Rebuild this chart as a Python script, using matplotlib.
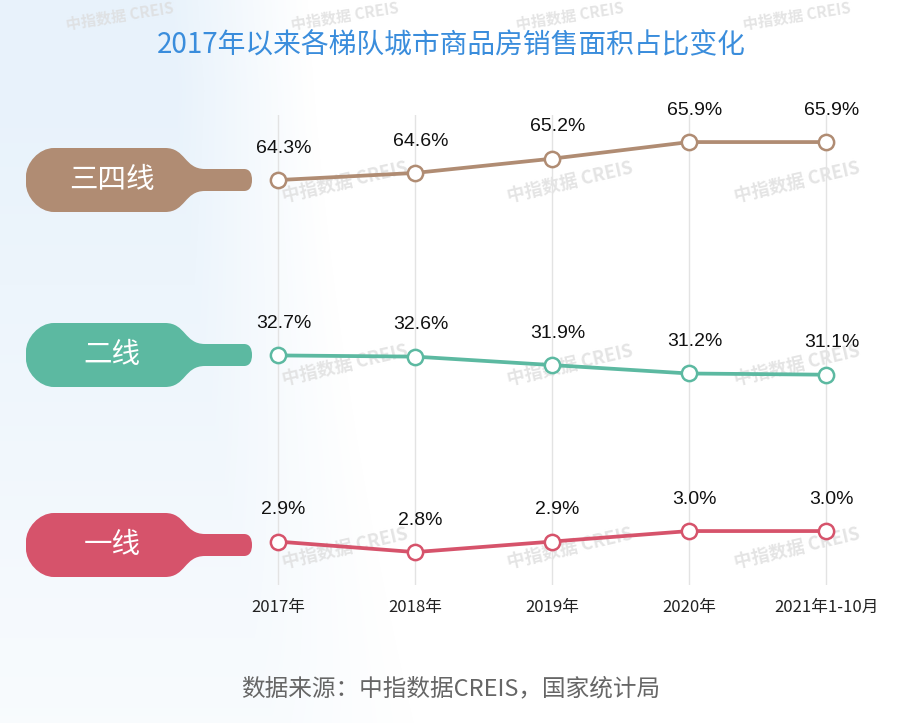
import matplotlib
matplotlib.use("Agg")
import matplotlib.pyplot as plt
import numpy as np
from matplotlib.path import Path
from matplotlib.patches import PathPatch

plt.rcParams['font.family'] = ['Noto Sans CJK SC', 'DejaVu Sans']
LATIN = ['Liberation Sans', 'Noto Sans CJK SC']

W, H = 902, 723

title = "2017年以来各梯队城市商品房销售面积占比变化"
source = "数据来源：中指数据CREIS，国家统计局"
periods = ["2017年", "2018年", "2019年", "2020年", "2021年1-10月"]
tiers = ["三四线", "二线", "一线"]
share_tier34 = [64.3, 64.6, 65.2, 65.9, 65.9]
share_tier2 = [32.7, 32.6, 31.9, 31.2, 31.1]
share_tier1 = [2.9, 2.8, 2.9, 3.0, 3.0]

colors = ["#b08c73", "#5cb9a1", "#d6536b"]
# per tier: band top/bottom in px and ylim
bands = [(110, 210), (300, 400), (490, 590)]
ylims = [(63.04, 67.25), (29.0, 37.3), (2.44, 3.39)]
bottle_y = [180, 355, 545]


def fig_rect(left, top, width, height):
    return [left / W, 1 - (top + height) / H, width / W, height / H]


fig = plt.figure(figsize=(W / 100, H / 100), dpi=100)

# background + decorations in pixel coordinates
bg = fig.add_axes([0, 0, 1, 1])
bg.set_xlim(0, W)
bg.set_ylim(H, 0)
bg.axis("off")

xx, yy = np.meshgrid(np.arange(W), np.arange(H))
edge = 300 + 0.12 * yy + 0.00012 * (yy - 250) ** 2
t = np.clip((edge - xx) / 140, 0, 1) * np.clip(1.1 - yy / 900, 0, 1)
t = np.clip(t, 0, 1)
img = np.ones((H, W, 3))
tint = np.array([0.91, 0.95, 0.985])
img = img * (1 - t[..., None]) + tint * t[..., None]
bg.imshow(img, extent=(0, W, H, 0), aspect="auto", zorder=0)

# watermarks
for wx in [120, 345, 570, 797]:
    bg.text(wx, 16, "中指数据 CREIS", fontsize=11, fontweight="bold",
            color="#dcdcdc", alpha=0.75, rotation=9,
            ha="center", va="center", zorder=1)
    for wy in [182, 365, 548]:
        bg.text(wx, wy, "中指数据 CREIS", fontsize=13, fontweight="bold",
                color="#dcdcdc", alpha=0.75, rotation=13,
                ha="center", va="center", zorder=1)


def bottle(cy, color):
    x0, r, hb, hn = 26, 28, 32, 11
    verts = [
        (x0 + r, cy - hb), (165, cy - hb),
        (186, cy - hb), (184, cy - hn), (205, cy - hn),
        (244, cy - hn),
        (250, cy - hn), (252, cy - 6), (252, cy),
        (252, cy + 6), (250, cy + hn), (244, cy + hn),
        (205, cy + hn),
        (184, cy + hn), (186, cy + hb), (165, cy + hb),
        (x0 + r, cy + hb),
        (x0 + r * 0.45, cy + hb), (x0, cy + hb - r * 0.55), (x0, cy + hb - r),
        (x0, cy - hb + r),
        (x0, cy - hb + r * 0.55), (x0 + r * 0.45, cy - hb), (x0 + r, cy - hb),
        (x0 + r, cy - hb),
    ]
    codes = [Path.MOVETO, Path.LINETO,
             Path.CURVE4, Path.CURVE4, Path.CURVE4,
             Path.LINETO,
             Path.CURVE4, Path.CURVE4, Path.CURVE4,
             Path.CURVE4, Path.CURVE4, Path.CURVE4,
             Path.LINETO,
             Path.CURVE4, Path.CURVE4, Path.CURVE4,
             Path.LINETO,
             Path.CURVE4, Path.CURVE4, Path.CURVE4,
             Path.LINETO,
             Path.CURVE4, Path.CURVE4, Path.CURVE4,
             Path.CLOSEPOLY]
    bg.add_patch(PathPatch(Path(verts, codes), facecolor=color,
                           edgecolor="none", zorder=2))


for name, cy, c in zip(tiers, bottle_y, colors):
    bottle(cy, c)
    bg.text(112, cy, name, fontsize=20.5, color="white",
            ha="center", va="center", zorder=3)

fig.text(0.5, 1 - 45 / H, title, fontsize=20, color="#3a8ddc",
         fontweight="medium", ha="center", va="center")
fig.text(0.5, 1 - 689 / H, source, fontsize=17, color="#666666",
         ha="center", va="center")

# grid axes with x labels
xlim = (-68 / 137, (880 - 278) / 137)
x = np.arange(len(periods))
grid = fig.add_axes(fig_rect(210, 115, 670, 470))
grid.set_xlim(*xlim)
grid.patch.set_alpha(0)
for s in grid.spines.values():
    s.set_visible(False)
grid.set_yticks([])
grid.set_xticks(x)
grid.set_xticklabels(periods, fontsize=12, color="#222222")
grid.tick_params(axis="x", length=0, pad=10)
grid.grid(axis="x", color="#e3e3e3", linewidth=1)

series = [share_tier34, share_tier2, share_tier1]
for vals, (top, bottom), yl, c in zip(series, bands, ylims, colors):
    ax = fig.add_axes(fig_rect(210, top, 670, bottom - top))
    ax.set_xlim(*xlim)
    ax.set_ylim(*yl)
    ax.axis("off")
    ax.plot(x, vals, color=c, linewidth=2.7, marker="o", markersize=11,
            markerfacecolor="white", markeredgecolor=c, markeredgewidth=1.8,
            clip_on=False, zorder=3)
    for xi, v in zip(x, vals):
        ax.annotate(f"{v:.1f}%", (xi, v), xytext=(4, 23),
                    textcoords="offset points", ha="center", va="center",
                    fontsize=14, color="#111111", family=LATIN)

fig.savefig("out.png", dpi=100)
